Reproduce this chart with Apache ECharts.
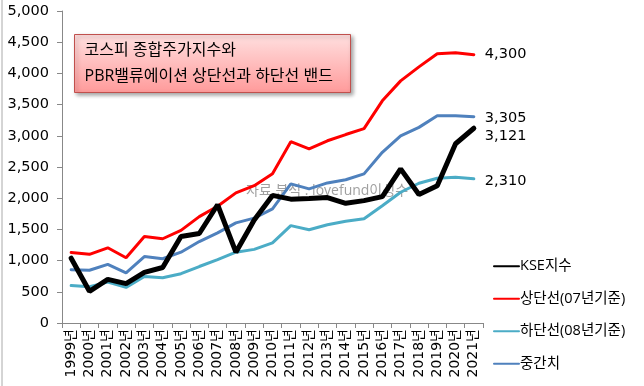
<!DOCTYPE html>
<html><head><meta charset="utf-8">
<script src="https://cdn.jsdelivr.net/npm/echarts@6/dist/echarts.min.js"></script>
<style>html,body{margin:0;padding:0;background:#fff}#c{width:644px;height:386px}</style>
</head><body><div id="c"></div>
<script>
var years = ['1999년','2000년','2001년','2002년','2003년','2004년','2005년','2006년','2007년','2008년','2009년','2010년','2011년','2012년','2013년','2014년','2015년','2016년','2017년','2018년','2019년','2020년','2021년'];
var kse   = [1038, 508, 700, 630, 810, 890, 1385, 1434, 1895, 1135, 1650, 2045, 1985, 1997, 2011, 1918, 1961, 2026, 2470, 2060, 2200, 2873, 3121];
var upper = [1130, 1100, 1205, 1045, 1385, 1350, 1485, 1705, 1870, 2085, 2200, 2390, 2905, 2790, 2920, 3020, 3115, 3560, 3880, 4105, 4315, 4330, 4300];
var lower = [600, 580, 655, 570, 745, 725, 790, 905, 1015, 1135, 1180, 1285, 1560, 1495, 1575, 1630, 1670, 1880, 2095, 2240, 2320, 2335, 2310];
var mid   = [855, 845, 940, 805, 1065, 1030, 1135, 1305, 1445, 1605, 1680, 1830, 2230, 2150, 2245, 2295, 2390, 2735, 3000, 3135, 3320, 3320, 3305];
var seriesNames = ['KSE지수', '상단선(07년기준)', '하단선(08년기준)', '중간치'];
var titleLines = ['코스피 종합주가지수와', 'PBR밸류에이션 상단선과 하단선 밴드'];
var watermark = '자료 분석 : lovefund이성수';

var FONT = "'Open Sans','Noto Sans CJK KR',sans-serif";
var NFONT = "'DejaVu Sans','Noto Sans CJK KR',sans-serif";
function fmt(v){ return Number(v).toLocaleString('en-US'); }
function mk(name, data, color, width, z, off){
  return {
    name: name, type: 'line', data: data, symbol: 'none', z: z,
    lineStyle: {color: color, width: width, cap: 'round'}, itemStyle: {color: color},
    emphasis: {disabled: true},
    endLabel: {show: true, distance: 11, offset: off || [0,0], color: '#000', fontSize: 14.5, fontFamily: NFONT,
      formatter: function(p){ return fmt(p.value); }}
  };
}
var chart = echarts.init(document.getElementById('c'), null, {renderer: 'canvas'});
chart.setOption({
  animation: false,
  grid: {left: 62, right: 161, top: 11, bottom: 63, containLabel: false},
  legend: {
    orient: 'vertical', left: 488, top: 254, itemWidth: 25, itemHeight: 14, itemGap: 18,
    itemStyle: {opacity: 0},
    data: seriesNames, textStyle: {fontSize: 14.5, fontFamily: FONT, color: '#000', padding: [0,0,0,-4]}
  },
  xAxis: {
    type: 'category', data: years, boundaryGap: true,
    axisLine: {lineStyle: {color: '#888'}},
    axisTick: {show: true, interval: 0, length: 5, lineStyle: {color: '#888'}},
    axisLabel: {rotate: 90, interval: 0, fontSize: 14, color: '#000', fontFamily: NFONT, margin: 6}
  },
  yAxis: {
    type: 'value', min: 0, max: 5000, interval: 500,
    axisLine: {show: true, lineStyle: {color: '#888'}},
    axisTick: {show: true, length: 5, lineStyle: {color: '#888'}},
    splitLine: {show: false},
    axisLabel: {fontSize: 14.5, color: '#000', fontFamily: NFONT, margin: 13, formatter: function(v){ return fmt(v); }}
  },
  graphic: [
    {type: 'line', shape: {x1: 2, y1: 0, x2: 2, y2: 386}, style: {stroke: '#aaa', lineWidth: 1}, silent: true},
    {type: 'text', left: 246, top: 184, z: 1, silent: true,
      style: {text: watermark, fontSize: 14, fontFamily: FONT, fill: 'rgba(128,128,128,0.75)'}},
    {type: 'group', left: 74, top: 34, z: 100, children: [
      {type: 'rect', shape: {x: 0, y: 0, width: 276, height: 58},
        style: {fill: {type: 'linear', x: 0, y: 0, x2: 0, y2: 1, colorStops: [{offset: 0, color: '#ffe0e0'}, {offset: 1, color: '#ff9a9a'}]},
          stroke: '#c0504d', lineWidth: 1, shadowBlur: 4, shadowOffsetX: 2, shadowOffsetY: 2, shadowColor: 'rgba(0,0,0,0.35)'}},
      {type: 'text', x: 10, y: 8, style: {text: titleLines[0], fontSize: 16, fontFamily: FONT, fill: '#000'}},
      {type: 'text', x: 10, y: 34, style: {text: titleLines[1], fontSize: 16, fontFamily: FONT, fill: '#000'}}
    ]}
  ],
  series: [
    mk(seriesNames[0], kse, '#000000', 5, 5, [0, 8]),
    mk(seriesNames[1], upper, '#ff0000', 3, 4),
    mk(seriesNames[2], lower, '#4bacc6', 3, 3, [0, 2]),
    mk(seriesNames[3], mid, '#4f81bd', 3, 2, [0, 1])
  ]
});
</script></body></html>
